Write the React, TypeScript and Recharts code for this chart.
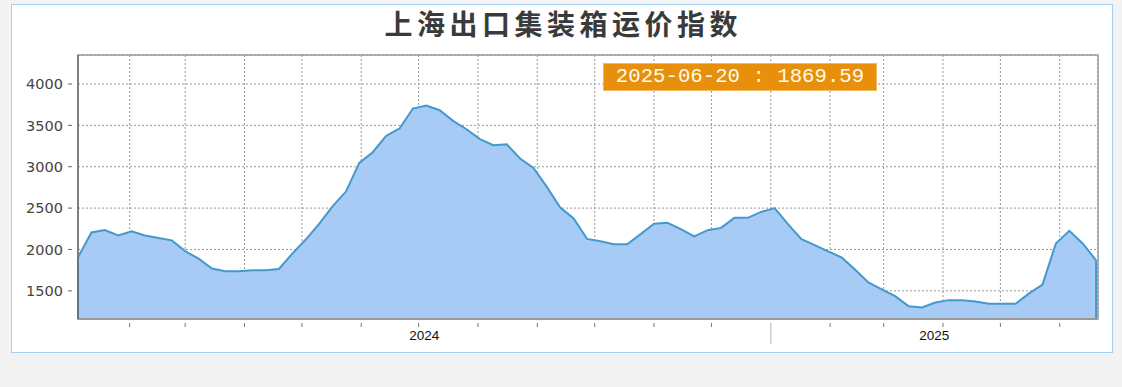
import React from 'react';
import {
  AreaChart,
  Area,
  XAxis,
  YAxis,
  CartesianGrid,
  ReferenceArea,
  ReferenceLine,
} from 'recharts';

// Weekly index readings (Fridays)
const dates = [
  '2024-01-05', '2024-01-12', '2024-01-19', '2024-01-26', '2024-02-02', '2024-02-09',
  '2024-02-16', '2024-02-23', '2024-03-01', '2024-03-08', '2024-03-15', '2024-03-22',
  '2024-03-29', '2024-04-05', '2024-04-12', '2024-04-19', '2024-04-26', '2024-05-03',
  '2024-05-10', '2024-05-17', '2024-05-24', '2024-05-31', '2024-06-07', '2024-06-14',
  '2024-06-21', '2024-06-28', '2024-07-05', '2024-07-12', '2024-07-19', '2024-07-26',
  '2024-08-02', '2024-08-09', '2024-08-16', '2024-08-23', '2024-08-30', '2024-09-06',
  '2024-09-13', '2024-09-20', '2024-09-27', '2024-10-04', '2024-10-11', '2024-10-18',
  '2024-10-25', '2024-11-01', '2024-11-08', '2024-11-15', '2024-11-22', '2024-11-29',
  '2024-12-06', '2024-12-13', '2024-12-20', '2024-12-27', '2025-01-03', '2025-01-10',
  '2025-01-17', '2025-01-24', '2025-01-31', '2025-02-07', '2025-02-14', '2025-02-21',
  '2025-02-28', '2025-03-07', '2025-03-14', '2025-03-21', '2025-03-28', '2025-04-04',
  '2025-04-11', '2025-04-18', '2025-04-25', '2025-05-02', '2025-05-09', '2025-05-16',
  '2025-05-23', '2025-05-30', '2025-06-06', '2025-06-13', '2025-06-20',
];

const values = [
  1905, 2205, 2235, 2170, 2220, 2170,
  2140, 2110, 1980, 1890, 1770, 1738,
  1738, 1750, 1750, 1765, 1950, 2120,
  2310, 2520, 2700, 3046, 3175, 3372,
  3462, 3703, 3740, 3683, 3554, 3453,
  3333, 3260, 3272, 3099, 2986, 2756,
  2507, 2375, 2128, 2100, 2064, 2064,
  2185, 2310, 2322, 2245, 2157, 2233,
  2261, 2382, 2382, 2454, 2500, 2306,
  2125, 2052, 1976, 1904, 1758, 1601,
  1517, 1436, 1315, 1299, 1360, 1388,
  1388, 1372, 1343, 1343, 1343, 1469,
  1577, 2073, 2225, 2073, 1869.59,
];

const monthTicks = [
  '2024-02-01', '2024-03-01', '2024-04-01', '2024-05-01', '2024-06-01', '2024-07-01',
  '2024-08-01', '2024-09-01', '2024-10-01', '2024-11-01', '2024-12-01', '2025-01-01',
  '2025-02-01', '2025-03-01', '2025-04-01', '2025-05-01', '2025-06-01',
];

const yTicks = [1500, 2000, 2500, 3000, 3500, 4000];
const yearBoundary = '2025-01-01';
const chartTitle = '上海出口集装箱运价指数';

const Y_MIN = 1160;
const Y_MAX = 4350;
const DAY = 86400000;

const toTime = (d: string) => Date.parse(d + 'T00:00:00Z');

const data = dates.map((d, i) => ({ date: d, t: toTime(d), v: values[i] }));
const first = data[0];
const last = data[data.length - 1];
const xStart = first.t;
const xEnd = last.t + DAY;
const boundaryT = toTime(yearBoundary);
const monthTickValues = monthTicks.map(toTime);
const yearTickValues = [(xStart + boundaryT) / 2, (boundaryT + xEnd) / 2];

const FILL = '#a7cbf5';
const LINE = '#4499cc';

const MonthTick = (props: any) => {
  const { x, y, payload } = props;
  if (payload.value === boundaryT) {
    return <line x1={x} x2={x} y1={y + 4} y2={y + 25} stroke="#cccccc" strokeWidth={1.5} />;
  }
  return <line x1={x} x2={x} y1={y + 4} y2={y + 8} stroke="#777777" strokeWidth={1} />;
};

const YearTick = (props: any) => {
  const { x, y, payload } = props;
  const year = new Date(payload.value).getUTCFullYear();
  return (
    <text
      x={x}
      y={y + 11}
      textAnchor="middle"
      fontSize={13.5}
      fontFamily="Liberation Sans, Arial, sans-serif"
      fill="#111111"
    >
      {year}
    </text>
  );
};

const ValueTick = (props: any) => {
  const { x, y, payload } = props;
  return (
    <g>
      <text
        x={x - 15}
        y={y}
        dy="0.36em"
        textAnchor="end"
        fontSize={14.5}
        fontFamily="DejaVu Sans, Verdana, sans-serif"
        fill="#444444"
      >
        {payload.value}
      </text>
      <line x1={x - 10} x2={x - 6} y1={y} y2={y} stroke="#666666" strokeWidth={1} />
    </g>
  );
};

export default function App() {
  const badge = `${last.date} : ${last.v.toFixed(2)}`;
  return (
    <div
      style={{
        position: 'absolute',
        left: 0,
        top: 0,
        width: 1122,
        height: 387,
        background: '#f3f3f3',
        overflow: 'hidden',
      }}
    >
      <div
        style={{
          position: 'absolute',
          left: 11,
          top: 4,
          width: 1100,
          height: 347,
          background: '#ffffff',
          border: '1px solid #a6cff5',
        }}
      />
      <div
        style={{
          position: 'absolute',
          left: 0,
          top: 9,
          width: 1122,
          height: 28,
          lineHeight: '28px',
          textAlign: 'center',
          fontFamily: '"Noto Sans CJK SC", sans-serif',
          fontWeight: 700,
          fontSize: 28,
          letterSpacing: 4.5,
          paddingLeft: 4.5,
          boxSizing: 'border-box',
          color: '#3a3a3a',
          whiteSpace: 'nowrap',
        }}
      >
        {chartTitle}
      </div>
      <div style={{ position: 'absolute', left: 0, top: 0 }}>
        <AreaChart
          width={1122}
          height={387}
          data={data}
          margin={{ top: 55, right: 24, bottom: 32, left: 0 }}
        >
          <CartesianGrid stroke="#999999" strokeDasharray="2 2" />
          <XAxis
            dataKey="t"
            type="number"
            domain={[xStart, xEnd]}
            ticks={monthTickValues}
            interval={0}
            height={10}
            tickSize={0}
            tickMargin={0}
            tickLine={false}
            axisLine={{ stroke: '#999999', strokeWidth: 2 }}
            tick={<MonthTick />}
            allowDataOverflow
          />
          <XAxis
            xAxisId="year"
            dataKey="t"
            type="number"
            domain={[xStart, xEnd]}
            ticks={yearTickValues}
            interval={0}
            height={26}
            tickSize={0}
            tickMargin={0}
            tickLine={false}
            axisLine={false}
            tick={<YearTick />}
            allowDataOverflow
          />
          <YAxis
            type="number"
            domain={[Y_MIN, Y_MAX]}
            ticks={yTicks}
            interval={0}
            width={78}
            tickSize={0}
            tickMargin={0}
            tickLine={false}
            axisLine={{ stroke: '#555555', strokeWidth: 1 }}
            tick={<ValueTick />}
            allowDataOverflow
          />
          <Area
            type="linear"
            dataKey="v"
            baseValue={Y_MIN}
            fill={FILL}
            fillOpacity={1}
            stroke={LINE}
            strokeWidth={2}
            dot={false}
            activeDot={false}
            isAnimationActive={false}
          />
          <ReferenceLine
            segment={[
              { x: last.t, y: Y_MIN },
              { x: last.t, y: last.v },
            ]}
            stroke={LINE}
            strokeWidth={2}
          />
          <ReferenceLine
            segment={[
              { x: first.t, y: Y_MIN },
              { x: first.t, y: first.v },
            ]}
            stroke={LINE}
            strokeWidth={1.5}
          />
          <ReferenceArea
            x1={xStart}
            x2={xEnd}
            y1={Y_MIN}
            y2={Y_MAX}
            fill="none"
            fillOpacity={0}
            stroke="#999999"
            strokeWidth={1.5}
          />
        </AreaChart>
      </div>
      <div
        style={{
          position: 'absolute',
          left: 603,
          top: 63,
          width: 274,
          height: 28,
          boxSizing: 'border-box',
          background: '#e8900b',
          border: '1px solid #f2b865',
          color: '#fffbea',
          fontFamily: '"Liberation Mono", monospace',
          fontSize: 20.7,
          lineHeight: '26px',
          textAlign: 'center',
          whiteSpace: 'pre',
        }}
      >
        {badge}
      </div>
    </div>
  );
}
